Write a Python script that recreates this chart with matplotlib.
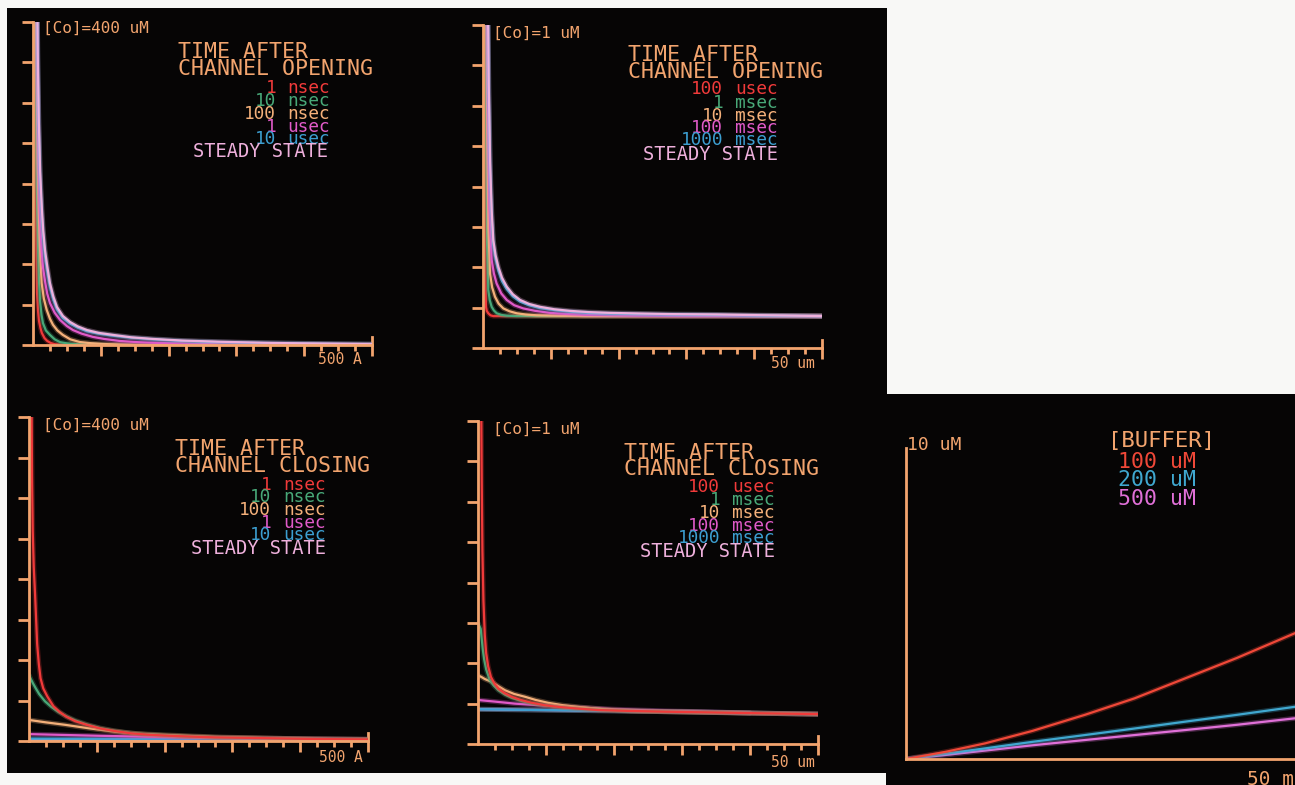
import matplotlib
matplotlib.use("Agg")
import matplotlib.pyplot as plt
import matplotlib.patheffects as pe
from matplotlib.patches import Rectangle
from matplotlib.ticker import FixedLocator, NullLocator

W, H = 1295, 785
DPI = 100

# ---------------- colours ----------------
C_AX = "#f2a46e"
C_RED = "#f03a3a"
C_GRN = "#48a878"
C_ORG = "#f4b07a"
C_MAG = "#e05ac8"
C_BLU = "#3c9ed0"
C_SS = "#eeb0dc"
C_BUF_R = "#f04838"
C_BUF_B = "#40a8d0"
C_BUF_P = "#e070d8"

# ---------------- data ----------------
# Panel A : [Co]=400 uM, after channel opening (x in Angstrom, y in tick units)
a_red_x = [2.6, 3.2, 4.0, 5.0, 5.9, 7.4, 8.8, 11, 13, 17, 21, 26, 32, 45, 70, 500]
a_red_y = [9.0, 6.0, 3.8, 2.2, 1.3, 0.85, 0.6, 0.42, 0.30, 0.17, 0.10, 0.05, 0.02, 0.005, 0, 0]
a_grn_x = [3.5, 4.5, 5.5, 7.4, 8.8, 10.3, 12.5, 14.7, 19, 25, 32, 40, 50, 59, 80, 110, 500]
a_grn_y = [9.0, 6.0, 4.0, 2.5, 1.6, 1.11, 0.75, 0.54, 0.36, 0.25, 0.14, 0.07, 0.04, 0.025, 0.01, 0, 0]
a_org_x = [4.5, 5.5, 7, 9, 11, 12.8, 16, 20.2, 25, 29.5, 36, 44, 55, 69, 85, 103, 130, 153, 200, 500]
a_org_y = [9, 6.5, 4.5, 3.0, 2.1, 1.53, 1.15, 0.87, 0.65, 0.50, 0.36, 0.25, 0.14, 0.074, 0.045, 0.025, 0.01, 0.0, 0, 0]
a_mag_x = [5.5, 6.5, 8, 10, 12.5, 14.7, 18, 21, 25, 32, 40, 50, 59, 72, 88.5, 105, 128, 155, 187, 230, 276, 350, 500]
a_mag_y = [9, 6.8, 4.8, 3.3, 2.4, 1.93, 1.55, 1.27, 1.04, 0.80, 0.62, 0.47, 0.37, 0.28, 0.20, 0.15, 0.10, 0.07, 0.05, 0.03, 0.015, 0.005, 0]
a_ss_x = [6, 7, 8.5, 10.5, 13, 15, 17.7, 21, 25, 30, 35.4, 44, 54.6, 66, 79.6, 97, 118, 145, 177, 220, 276, 340, 400, 450, 500]
a_blu_y = [9, 7.0, 5.4, 4.1, 3.2, 2.7, 2.2, 1.82, 1.43, 1.12, 0.88, 0.67, 0.53, 0.43, 0.34, 0.28, 0.23, 0.18, 0.14, 0.10, 0.07, 0.05, 0.035, 0.025, 0.02]
a_ss_y = [9, 7.2, 5.6, 4.3, 3.4, 2.85, 2.35, 1.95, 1.53, 1.2, 0.94, 0.72, 0.57, 0.46, 0.37, 0.30, 0.25, 0.19, 0.15, 0.11, 0.08, 0.055, 0.04, 0.03, 0.02]

# Panel B : [Co]=1 uM, after channel opening (x in um)
b_red_x = [0.28, 0.32, 0.38, 0.44, 0.55, 0.78, 1.1, 1.52, 3, 50]
b_red_y = [9, 4.0, 1.6, 1.02, 0.92, 0.86, 0.81, 0.79, 0.79, 0.79]
b_grn_x = [0.4, 0.5, 0.6, 0.78, 1.0, 1.28, 1.6, 2.02, 2.7, 3.5, 5, 50]
b_grn_y = [9, 5, 2.6, 1.44, 1.18, 1.02, 0.93, 0.86, 0.82, 0.80, 0.79, 0.79]
b_org_x = [0.5, 0.62, 0.8, 1.03, 1.35, 1.77, 2.3, 3.0, 3.9, 4.97, 6.3, 7.9, 11, 15, 50]
b_org_y = [9, 5.5, 3.0, 1.85, 1.5, 1.27, 1.1, 0.98, 0.91, 0.86, 0.83, 0.81, 0.80, 0.79, 0.79]
b_mag_x = [0.6, 0.75, 0.95, 1.28, 1.6, 2.0, 2.7, 3.5, 4.6, 5.95, 7.7, 9.9, 12.5, 15.3, 19, 22.7, 30, 50]
b_mag_y = [9, 6, 3.5, 2.18, 1.85, 1.6, 1.35, 1.19, 1.06, 0.98, 0.92, 0.87, 0.84, 0.82, 0.81, 0.80, 0.79, 0.79]
b_ss_x = [0.7, 0.85, 1.05, 1.28, 1.52, 1.85, 2.26, 2.8, 3.5, 4.4, 5.46, 6.8, 8.4, 10.5, 12.8, 15.5, 18.7, 23, 27.6, 34.5, 42, 50]
b_blu_y = [9, 6.3, 4.4, 3.25, 2.55, 2.2, 1.92, 1.66, 1.46, 1.28, 1.15, 1.06, 0.99, 0.94, 0.90, 0.87, 0.85, 0.84, 0.83, 0.82, 0.80, 0.79]
b_ss_y = [9, 6.5, 4.6, 3.4, 2.67, 2.3, 2.01, 1.74, 1.52, 1.33, 1.19, 1.09, 1.02, 0.96, 0.92, 0.89, 0.87, 0.855, 0.84, 0.83, 0.81, 0.79]

# Panel C : [Co]=400 uM, after channel closing (x in Angstrom)
c_red_x = [3.5, 4.5, 5.5, 7.0, 9.0, 10.5, 12, 14.5, 17, 21, 27, 36, 45, 55, 68, 85, 105, 125, 150, 180, 220, 274, 350, 420, 500]
c_red_y = [9, 6.5, 5.2, 4.3, 3.6, 3.0, 2.4, 1.9, 1.55, 1.3, 1.1, 0.86, 0.72, 0.60, 0.49, 0.40, 0.31, 0.25, 0.19, 0.15, 0.12, 0.09, 0.07, 0.05, 0.04]
c_grn_x = [0, 3, 6, 10, 15, 23.6, 33, 43, 55, 68, 85, 105, 125, 150, 180, 220, 274, 350, 420, 500]
c_grn_y = [1.63, 1.52, 1.42, 1.30, 1.16, 0.98, 0.84, 0.72, 0.61, 0.51, 0.41, 0.32, 0.255, 0.195, 0.155, 0.12, 0.09, 0.07, 0.05, 0.04]
c_org_x = [0, 25, 53, 90, 127, 160, 200, 274, 350, 420, 500]
c_org_y = [0.52, 0.46, 0.40, 0.31, 0.23, 0.18, 0.15, 0.10, 0.07, 0.05, 0.04]
c_mag_x = [0, 100, 250, 500]
c_mag_y = [0.17, 0.13, 0.08, 0.04]
c_blu_x = [0, 250, 500]
c_blu_y = [0.06, 0.05, 0.03]
c_ss_x = [0, 500]
c_ss_y = [0.015, 0.015]

# Panel D : [Co]=1 uM, after channel closing (x in um)
d_red_x = [0.45, 0.55, 0.65, 0.8, 1.0, 1.2, 1.5, 1.9, 2.4, 3.0, 3.9, 4.95, 6.3, 7.9, 9.8, 11.8, 14.5, 17.7, 22, 27.5, 35, 42, 50]
d_red_y = [9, 6.5, 4.8, 3.55, 2.7, 2.25, 1.92, 1.66, 1.5, 1.37, 1.26, 1.17, 1.09, 1.02, 0.96, 0.92, 0.88, 0.84, 0.82, 0.80, 0.78, 0.76, 0.74]
d_grn_x = [0, 0.4, 0.55, 0.7, 0.9, 1.2, 1.7, 2.3, 3.0, 4.0, 5.0, 6.5, 8, 10, 12, 15, 18, 22, 28, 35, 42, 50]
d_grn_y = [3.0, 2.85, 2.6, 2.35, 2.1, 1.85, 1.6, 1.45, 1.33, 1.22, 1.14, 1.06, 1.0, 0.95, 0.91, 0.87, 0.84, 0.82, 0.80, 0.78, 0.76, 0.74]
d_org_x = [0, 0.5, 1.0, 2.0, 3.0, 3.97, 5.3, 6.9, 8.5, 10.3, 12.5, 15.2, 18.5, 22.6, 27.5, 35, 42, 50]
d_org_y = [1.70, 1.66, 1.61, 1.54, 1.43, 1.33, 1.24, 1.17, 1.09, 1.02, 0.96, 0.91, 0.86, 0.82, 0.80, 0.78, 0.76, 0.74]
d_mag_x = [0, 2.5, 5.4, 9, 12.8, 16.5, 20.1, 27.5, 35, 42, 50]
d_mag_y = [1.09, 1.05, 1.0, 0.96, 0.92, 0.89, 0.86, 0.82, 0.79, 0.76, 0.74]
d_blu_x = [0, 10, 20, 30, 40, 50]
d_blu_y = [0.86, 0.84, 0.82, 0.80, 0.77, 0.74]
d_ss_x = [0, 10, 20, 30, 40]
d_ss_y = [0.86, 0.84, 0.82, 0.80, 0.77]

# Panel E : buffer comparison (t in ms, concentration in uM)
e_t = [0, 5, 10, 16, 22.7, 29, 35.4, 42, 49.4]
e_100 = [0, 0.23, 0.50, 0.90, 1.42, 1.95, 2.59, 3.25, 4.05]
e_200 = [0, 0.17, 0.34, 0.55, 0.77, 0.98, 1.20, 1.42, 1.68]
e_500 = [0, 0.13, 0.27, 0.44, 0.61, 0.77, 0.93, 1.10, 1.31]

open_fast_labels = [("1", "nsec"), ("10", "nsec"), ("100", "nsec"), ("1", "usec"), ("10", "usec")]
open_slow_labels = [("100", "usec"), ("1", "msec"), ("10", "msec"), ("100", "msec"), ("1000", "msec")]
row_colors = [C_RED, C_GRN, C_ORG, C_MAG, C_BLU]
buffer_labels = ["100 uM", "200 uM", "500 uM"]
buffer_colors = [C_BUF_R, C_BUF_B, C_BUF_P]

FONT = "DejaVu Sans Mono"

fig = plt.figure(figsize=(W / DPI, H / DPI), dpi=DPI, facecolor="#f8f8f6")

def fx(x):
    return x / W

def fy(y):
    return 1 - y / H

BG = "#060505"
fig.add_artist(Rectangle((fx(7), fy(773)), 880 / W, 765 / H, transform=fig.transFigure,
                         facecolor=BG, edgecolor="none", zorder=0))
fig.add_artist(Rectangle((fx(886), fy(786)), 410 / W, 392 / H, transform=fig.transFigure,
                         facecolor=BG, edgecolor="none", zorder=0))

def txt(x, yc, s, color, size, ha="left"):
    em = size * DPI / 72.0
    base = yc + 0.36 * em
    fig.text(fx(x), fy(base), s, color=color, fontsize=size, family=FONT,
             ha=ha, va="baseline", zorder=5)

def make_axes(x0, x1, ytop, ybot, xmax, ymax, ticks=True):
    ax = fig.add_axes([fx(x0), fy(ybot), (x1 - x0) / W, (ybot - ytop) / H])
    ax.set_facecolor("none")
    ax.set_xlim(0, xmax)
    ax.set_ylim(0, ymax)
    for s in ("top", "right"):
        ax.spines[s].set_visible(False)
    for s in ("left", "bottom"):
        ax.spines[s].set_color(C_AX)
        ax.spines[s].set_linewidth(2.0)
        ax.spines[s].set_zorder(4)
    ax.set_xticklabels([])
    ax.set_yticklabels([])
    if ticks:
        step = xmax / 20.0
        ax.xaxis.set_major_locator(FixedLocator([xmax * k / 5 for k in range(1, 6)]))
        ax.xaxis.set_minor_locator(FixedLocator([step * k for k in range(1, 20) if k % 4 != 0]))
        ax.yaxis.set_major_locator(FixedLocator(list(range(0, 9))))
        ax.yaxis.set_minor_locator(NullLocator())
        ax.tick_params(which="major", direction="out", length=8, width=2, color=C_AX)
        ax.tick_params(which="minor", direction="out", length=4, width=2, color=C_AX)
        ax.axvline(xmax, 0, 0.025, color=C_AX, lw=2, clip_on=False)
    else:
        ax.xaxis.set_major_locator(NullLocator())
        ax.yaxis.set_major_locator(NullLocator())
    return ax

LW = 1.6

def curve(ax, x, y, color):
    ax.plot(x, y, color=color, lw=LW, solid_capstyle="round",
            path_effects=[pe.Stroke(linewidth=3.6, foreground=color, alpha=0.28), pe.Normal()])

# ---------- Panel A ----------
axA = make_axes(33, 372, 22, 345, 500, 8)
curve(axA, a_red_x, a_red_y, C_RED)
curve(axA, a_grn_x, a_grn_y, C_GRN)
curve(axA, a_org_x, a_org_y, C_ORG)
curve(axA, a_mag_x, a_mag_y, C_MAG)
curve(axA, a_ss_x, a_blu_y, C_BLU)
curve(axA, a_ss_x, a_ss_y, C_SS)

# ---------- Panel B ----------
axB = make_axes(483, 822, 25, 348, 50, 8)
curve(axB, b_red_x, b_red_y, C_RED)
curve(axB, b_grn_x, b_grn_y, C_GRN)
curve(axB, b_org_x, b_org_y, C_ORG)
curve(axB, b_mag_x, b_mag_y, C_MAG)
curve(axB, b_ss_x, b_blu_y, C_BLU)
curve(axB, b_ss_x, b_ss_y, C_SS)

# ---------- Panel C ----------
axC = make_axes(29, 368, 417, 741, 500, 8)
curve(axC, c_ss_x, c_ss_y, C_SS)
curve(axC, c_blu_x, c_blu_y, C_BLU)
curve(axC, c_mag_x, c_mag_y, C_MAG)
curve(axC, c_org_x, c_org_y, C_ORG)
curve(axC, c_grn_x, c_grn_y, C_GRN)
curve(axC, c_red_x, c_red_y, C_RED)

# ---------- Panel D ----------
axD = make_axes(478, 818, 421, 744, 50, 8)
curve(axD, d_ss_x, d_ss_y, C_SS)
curve(axD, d_blu_x, d_blu_y, C_BLU)
curve(axD, d_mag_x, d_mag_y, C_MAG)
curve(axD, d_org_x, d_org_y, C_ORG)
curve(axD, d_grn_x, d_grn_y, C_GRN)
curve(axD, d_red_x, d_red_y, C_RED)

# ---------- Panel E ----------
axE = make_axes(906, 1300, 448, 759, 50, 10, ticks=False)
curve(axE, e_t, e_500, C_BUF_P)
curve(axE, e_t, e_200, C_BUF_B)
curve(axE, e_t, e_100, C_BUF_R)

# ---------- texts ----------
TS = 15.5   # title size
LS = 12.8   # legend size

def legend_block(tx, t1y, t2y, title2, num_right, unit_left, rows_y, labels, ss_left, ss_y):
    txt(tx, t1y, "TIME AFTER", C_AX, TS)
    txt(tx, t2y, title2, C_AX, TS)
    for (n, u), yy, col in zip(labels, rows_y, row_colors):
        txt(num_right, yy, n, col, LS, ha="right")
        txt(unit_left, yy, u, col, LS)
    txt(ss_left, ss_y, "STEADY STATE", C_SS, 13.5)

# A
txt(43, 27, "[Co]=400 uM", C_AX, 11.5)
legend_block(178, 50, 67, "CHANNEL OPENING", 276, 287, [87, 100, 113, 126, 138],
             open_fast_labels, 193, 150)
txt(362, 359, "500 A", C_AX, 10.5, ha="right")

# B
txt(493, 32, "[Co]=1 uM", C_AX, 11.5)
legend_block(628, 53, 70, "CHANNEL OPENING", 723, 735, [88, 102, 115, 127, 139],
             open_slow_labels, 643, 153)
txt(815, 363, "50 um", C_AX, 10.5, ha="right")

# C
txt(43, 424, "[Co]=400 uM", C_AX, 11.5)
legend_block(175, 447, 464, "CHANNEL CLOSING", 271, 283, [484, 496, 509, 522, 534],
             open_fast_labels, 191, 547)
txt(363, 757, "500 A", C_AX, 10.5, ha="right")

# D
txt(493, 428, "[Co]=1 uM", C_AX, 11.5)
legend_block(624, 451, 467, "CHANNEL CLOSING", 720, 732, [486, 499, 512, 525, 537],
             open_slow_labels, 640, 550)
txt(815, 762, "50 um", C_AX, 10.5, ha="right")

# E
txt(907, 443, "10 uM", C_AX, 13)
txt(1108, 439, "[BUFFER]", C_AX, 16)
for lab, col, yy in zip(buffer_labels, buffer_colors, [460, 478, 497]):
    txt(1118, yy, lab, col, 15.5)
txt(1247, 778, "50 mS", C_AX, 14)

fig.savefig("out.png", dpi=DPI, facecolor=fig.get_facecolor())
